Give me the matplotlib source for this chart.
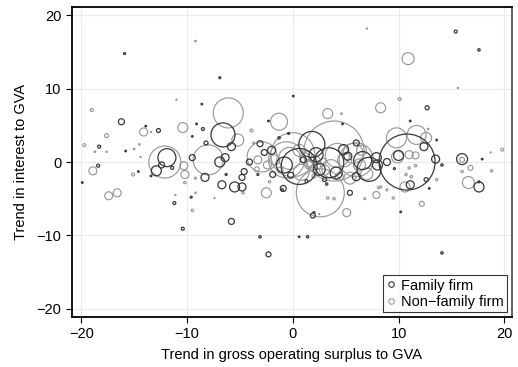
import matplotlib.pyplot as plt
from matplotlib.lines import Line2D
import numpy as np

plt.rcParams['font.family'] = ['Liberation Sans', 'DejaVu Sans']

# family firms: trend in GOS/GVA, trend in interest/GVA, bubble weight
fam_x = [-15.9, -6.9, -8.6, -16.2, -2.3, -13.9, -12.7, -9.1, -8.5, -9.5,
         -6.6, -5.8, -8.2, -18.3, -15.8, -11.9, -12.4, -12.9, -11.4, -18.4,
         -14.6, -13.4, -19.9, -11.2, -10.4, -5.8, -3.1, -2.3, 0.6, 1.4,
         14.1, -0.4, 0.05, 4.7, 11.1, 12.7, 15.4, 17.6, -1.3, -3.1,
         -2.7, -4.1, -9.5, -6.9, -6.4, -8.3, -6.3, -4.6, -4.8, -6.7,
         -5.5, -4.8, -3.3, -1.0, -1.9, -0.9, -9.6, 1.9, 2.0, 5.4,
         3.2, 1.8, 3.4, 7.2, 6.0, 0.6, 7.9, 6.0, 10.8, 12.4,
         13.6, 13.5, 14.1, 16.0, 17.6, 17.6, 17.9, 12.6, 12.9, 10.2,
         11.1, 10.0, 8.9, 9.6, 8.0, -0.8, 2.5, -2.0, 4.8, 1.0,
         2.2, 4.1, 5.2, -0.2, 3.0, 6.6, 1.3]
fam_y = [14.8, 11.5, 7.9, 5.5, 5.6, 4.9, 4.3, 5.2, 4.5, 3.5,
         3.7, 2.1, 2.6, 2.1, 1.5, 0.6, -0.4, -1.2, -0.8, -0.5,
         -1.3, -1.9, -2.8, -5.6, -9.1, -8.1, -10.2, -12.6, -10.2, -10.2,
         -12.4, 3.9, 9.0, 5.2, 5.6, 7.4, 17.8, 15.3, 3.3, 2.5,
         1.3, 0.0, 0.6, 0.0, 0.6, -2.1, -1.7, -1.3, -2.1, -3.1,
         -3.4, -3.4, -1.7, -3.8, -1.7, -3.6, -4.8, -7.3, -6.9, -4.2,
         -3.0, 2.4, -0.1, -1.0, 2.6, -0.6, 0.6, -2.0, 0.0, 2.1,
         3.0, 0.4, -0.4, 0.4, -3.4, -2.7, 0.4, -2.4, -3.6, -6.8,
         -3.1, 0.9, 0.0, -0.9, -0.4, -0.4, -1.0, 1.6, 1.7, 0.3,
         1.0, -1.5, 0.8, -1.8, -2.4, 0.2, -2.6]
fam_w = [1.0, 1.0, 0.8, 3.0, 0.8, 0.8, 2.0, 0.8, 1.5, 0.8,
         12, 4.0, 2.0, 1.5, 0.8, 9.0, 3.0, 5.0, 1.5, 1.5,
         0.8, 0.8, 0.8, 1.5, 1.5, 3.0, 1.2, 2.5, 0.8, 1.2,
         1.2, 1.0, 0.8, 0.8, 0.8, 2.0, 1.5, 1.2, 1.2, 3.0,
         3.0, 3.0, 3.0, 5.0, 4.0, 4.0, 1.0, 3.0, 3.0, 4.0,
         5.0, 4.0, 1.0, 1.2, 3.0, 3.0, 1.0, 2.5, 1.0, 2.5,
         1.2, 13, 15, 12, 3.0, 18, 5.0, 4.0, 28, 4.0,
         0.8, 4.0, 1.2, 5.5, 5.0, 1.0, 0.8, 2.0, 0.8, 0.8,
         4.0, 5.0, 3.5, 1.0, 5.0, 8.0, 6.0, 4.0, 5.0, 3.0,
         7.0, 6.0, 4.0, 3.0, 2.0, 9.0, 1.5]

# non-family firms
non_x = [-9.2, -11.0, -19.0, -6.1, -1.3, -10.4, -14.1, -13.4, -17.6, -5.2,
         -3.9, -19.7, -18.7, -17.6, -15.0, -14.5, -14.4, -12.1, -10.3, -18.9,
         -15.1, -17.4, -16.6, -10.2, -11.1, -9.5, -9.2, -7.4, -4.7, -2.5,
         -8.0, -2.9, -0.6, -3.7, -10.2, -9.2, -3.4, -2.2, 7.0, 10.9,
         15.6, 10.1, 8.3, 3.3, 4.6, 3.9, 2.6, 0.0, 6.0, 9.8,
         11.7, 12.6, 12.8, 16.0, 16.8, 16.0, 16.6, 18.7, 19.8, 18.8,
         9.9, 11.0, 11.6, 11.0, 11.6, 10.7, 11.2, 13.6, 10.6, 9.5,
         7.9, 8.3, 12.2, 5.1, 2.5, 3.3, 3.9, 6.8, 8.1, 8.9,
         1.1, 1.5, 2.3, 0.6, 3.0, 4.4, 4.9, 6.3, 6.5, 5.4,
         -1.7, -2.4, -3.3, -1.2,
         1.6, 1.9, 2.4, 1.4, 2.9, 3.6, 0.8, 5.7, 4.2, 7.0, -0.3, 2.0]
non_y = [16.5, 8.5, 7.1, 6.7, 5.5, 4.7, 4.1, 4.1, 3.6, 3.0,
         4.3, 2.3, 1.4, 1.4, 1.8, 2.4, 0.7, 0.0, -0.5, -1.2,
         -1.7, -4.6, -4.2, -2.8, -4.5, -6.6, -4.2, -4.9, -4.2, -4.2,
         0.3, 0.7, 0.3, 2.6, -1.7, -2.2, -1.0, -2.7, 18.2, 14.1,
         10.1, 8.6, 7.4, 6.6, 6.6, 1.5, -4.2, 1.0, 0.3, 3.3,
         3.7, 3.3, 4.5, 0.3, -0.8, -1.3, -2.8, 1.3, 1.7, -1.2,
         0.7, 1.0, 0.9, -0.8, -0.5, -1.7, -2.0, -2.4, -3.4, -4.9,
         -4.5, -3.4, -5.7, -6.9, -7.1, -4.9, -5.0, -5.0, -3.5, -3.8,
         0.6, -0.4, 0.3, 1.6, -1.1, -2.0, 0.3, -0.4, 1.6, -2.2,
         0.3, -0.4, 0.3, -1.1,
         -0.2, 0.4, -0.6, 0.9, 0.1, -0.9, -1.4, 1.2, 0.9, -1.6, 0.5, -1.9]
non_w = [0.8, 0.6, 1.5, 15, 8.5, 5.0, 4.0, 0.6, 2.0, 6.0,
         1.5, 1.5, 0.8, 0.6, 0.8, 0.8, 0.6, 16, 4.0, 4.0,
         1.5, 4.0, 4.0, 1.2, 0.6, 1.2, 0.8, 0.6, 1.2, 5.0,
         15, 15, 18, 1.0, 4.0, 1.0, 2.5, 1.2, 0.6, 6.0,
         0.6, 1.5, 5.0, 5.0, 0.8, 30, 24, 22, 17, 10,
         9.5, 5.5, 0.8, 2.5, 2.5, 1.2, 6.0, 0.6, 1.5, 1.2,
         6.0, 4.0, 3.5, 1.2, 1.2, 1.2, 1.2, 1.2, 5.0, 1.2,
         3.5, 1.2, 2.5, 4.0, 0.6, 1.2, 1.2, 1.0, 1.0, 1.0,
         5.0, 4.0, 3.0, 6.0, 5.0, 4.0, 7.0, 6.0, 5.0, 6.0,
         5.0, 4.0, 4.0, 3.0,
         3.0, 2.0, 2.5, 4.0, 3.0, 9.0, 8.0, 10, 12, 6.0, 11, 2.0]

fam_col = '#383838'
non_col = '#999999'

fig = plt.figure(figsize=(5.18, 3.67), dpi=100)
ax = fig.add_axes([0.1384, 0.137, 0.8496, 0.843])

# weight is bubble radius in pixels -> marker area in pt^2
def area(w):
    return (2 * np.asarray(w) * 0.72) ** 2

ax.scatter(non_x, non_y, s=area(non_w), facecolors='none', edgecolors=non_col,
           linewidths=0.85, zorder=2)
ax.scatter(fam_x, fam_y, s=area(fam_w), facecolors='none', edgecolors=fam_col,
           linewidths=0.9, zorder=3)

ax.set_xlim(-20.9, 20.7)
ax.set_ylim(-21.1, 21.1)
ax.set_xticks([-20, -10, 0, 10, 20])
ax.set_yticks([-20, -10, 0, 10, 20])
ax.grid(True, color='#ebebeb', linewidth=0.8, zorder=0)
ax.set_axisbelow(True)
ax.tick_params(labelsize=10.5, length=4, width=0.8, colors='black')

for side in ['left', 'bottom', 'top']:
    ax.spines[side].set_color('black')
    ax.spines[side].set_linewidth(1.3)
ax.spines['right'].set_color('#555555')
ax.spines['right'].set_linewidth(1.3)

ax.set_xlabel('Trend in gross operating surplus to GVA', fontsize=10.5, labelpad=5)
ax.set_ylabel('Trend in interest to GVA', fontsize=10.5, labelpad=6)

handles = [Line2D([], [], marker='o', linestyle='none', markersize=4,
                  markerfacecolor='none', markeredgecolor=fam_col, markeredgewidth=0.8),
           Line2D([], [], marker='o', linestyle='none', markersize=4,
                  markerfacecolor='none', markeredgecolor=non_col, markeredgewidth=0.8)]
leg = ax.legend(handles, ['Family firm', 'Non\u2212family firm'], loc='lower right',
                fontsize=10.5, frameon=True, fancybox=False, edgecolor='black',
                handlelength=0.6, handletextpad=0.4, borderpad=0.25,
                labelspacing=0.15, borderaxespad=0.3)
leg.get_frame().set_linewidth(0.8)

fig.savefig('out.png', dpi=100)
